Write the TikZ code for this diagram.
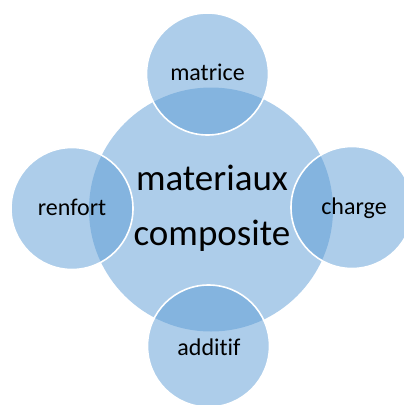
\documentclass[tikz,border=0pt]{standalone}
\usepackage{fontspec}
\setmainfont{Carlito}[Ligatures={NoCommon,NoRequired,NoContextual}]
\definecolor{accent}{HTML}{5B9BD5}
\begin{document}
\begin{tikzpicture}[x=1pt,y=-1pt,
  hub/.style={circle, inner sep=0pt, minimum size=244pt, fill=accent, fill opacity=0.5, draw=none},
  petal/.style={circle, inner sep=0pt, minimum size=122pt, fill=accent, fill opacity=0.5, draw=white, draw opacity=1, line width=1.6pt},
  lbl/.style={anchor=base, font=\fontsize{24}{28}\selectfont, text=black, inner sep=0pt},
  hublbl/.style={anchor=base, font=\fontsize{37}{54}\selectfont, text=black, inner sep=0pt}]
  \useasboundingbox (0,0) rectangle (404,405);
  % central circle and the four satellites around it
  \node[hub] (core) at (211,209.5) {};
  \node[petal] (top) at (207.5,74) {};
  \node[petal] (left) at (72,208.5) {};
  \node[petal] (right) at (352,207.5) {};
  \node[petal] (bottom) at (208.5,346) {};
  % labels
  \node[hublbl] (t1) at (212,190.5) {materiaux};
  \node[hublbl] (t2) at (212,245) {composite};
  \node[lbl] (ltop) at (207.5,80) {matrice};
  \node[lbl] (lleft) at (72,215.5) {renfort};
  \node[lbl] (lright) at (354,214) {charge};
  \node[lbl] (lbottom) at (209,355) {additif};
\end{tikzpicture}
\end{document}
